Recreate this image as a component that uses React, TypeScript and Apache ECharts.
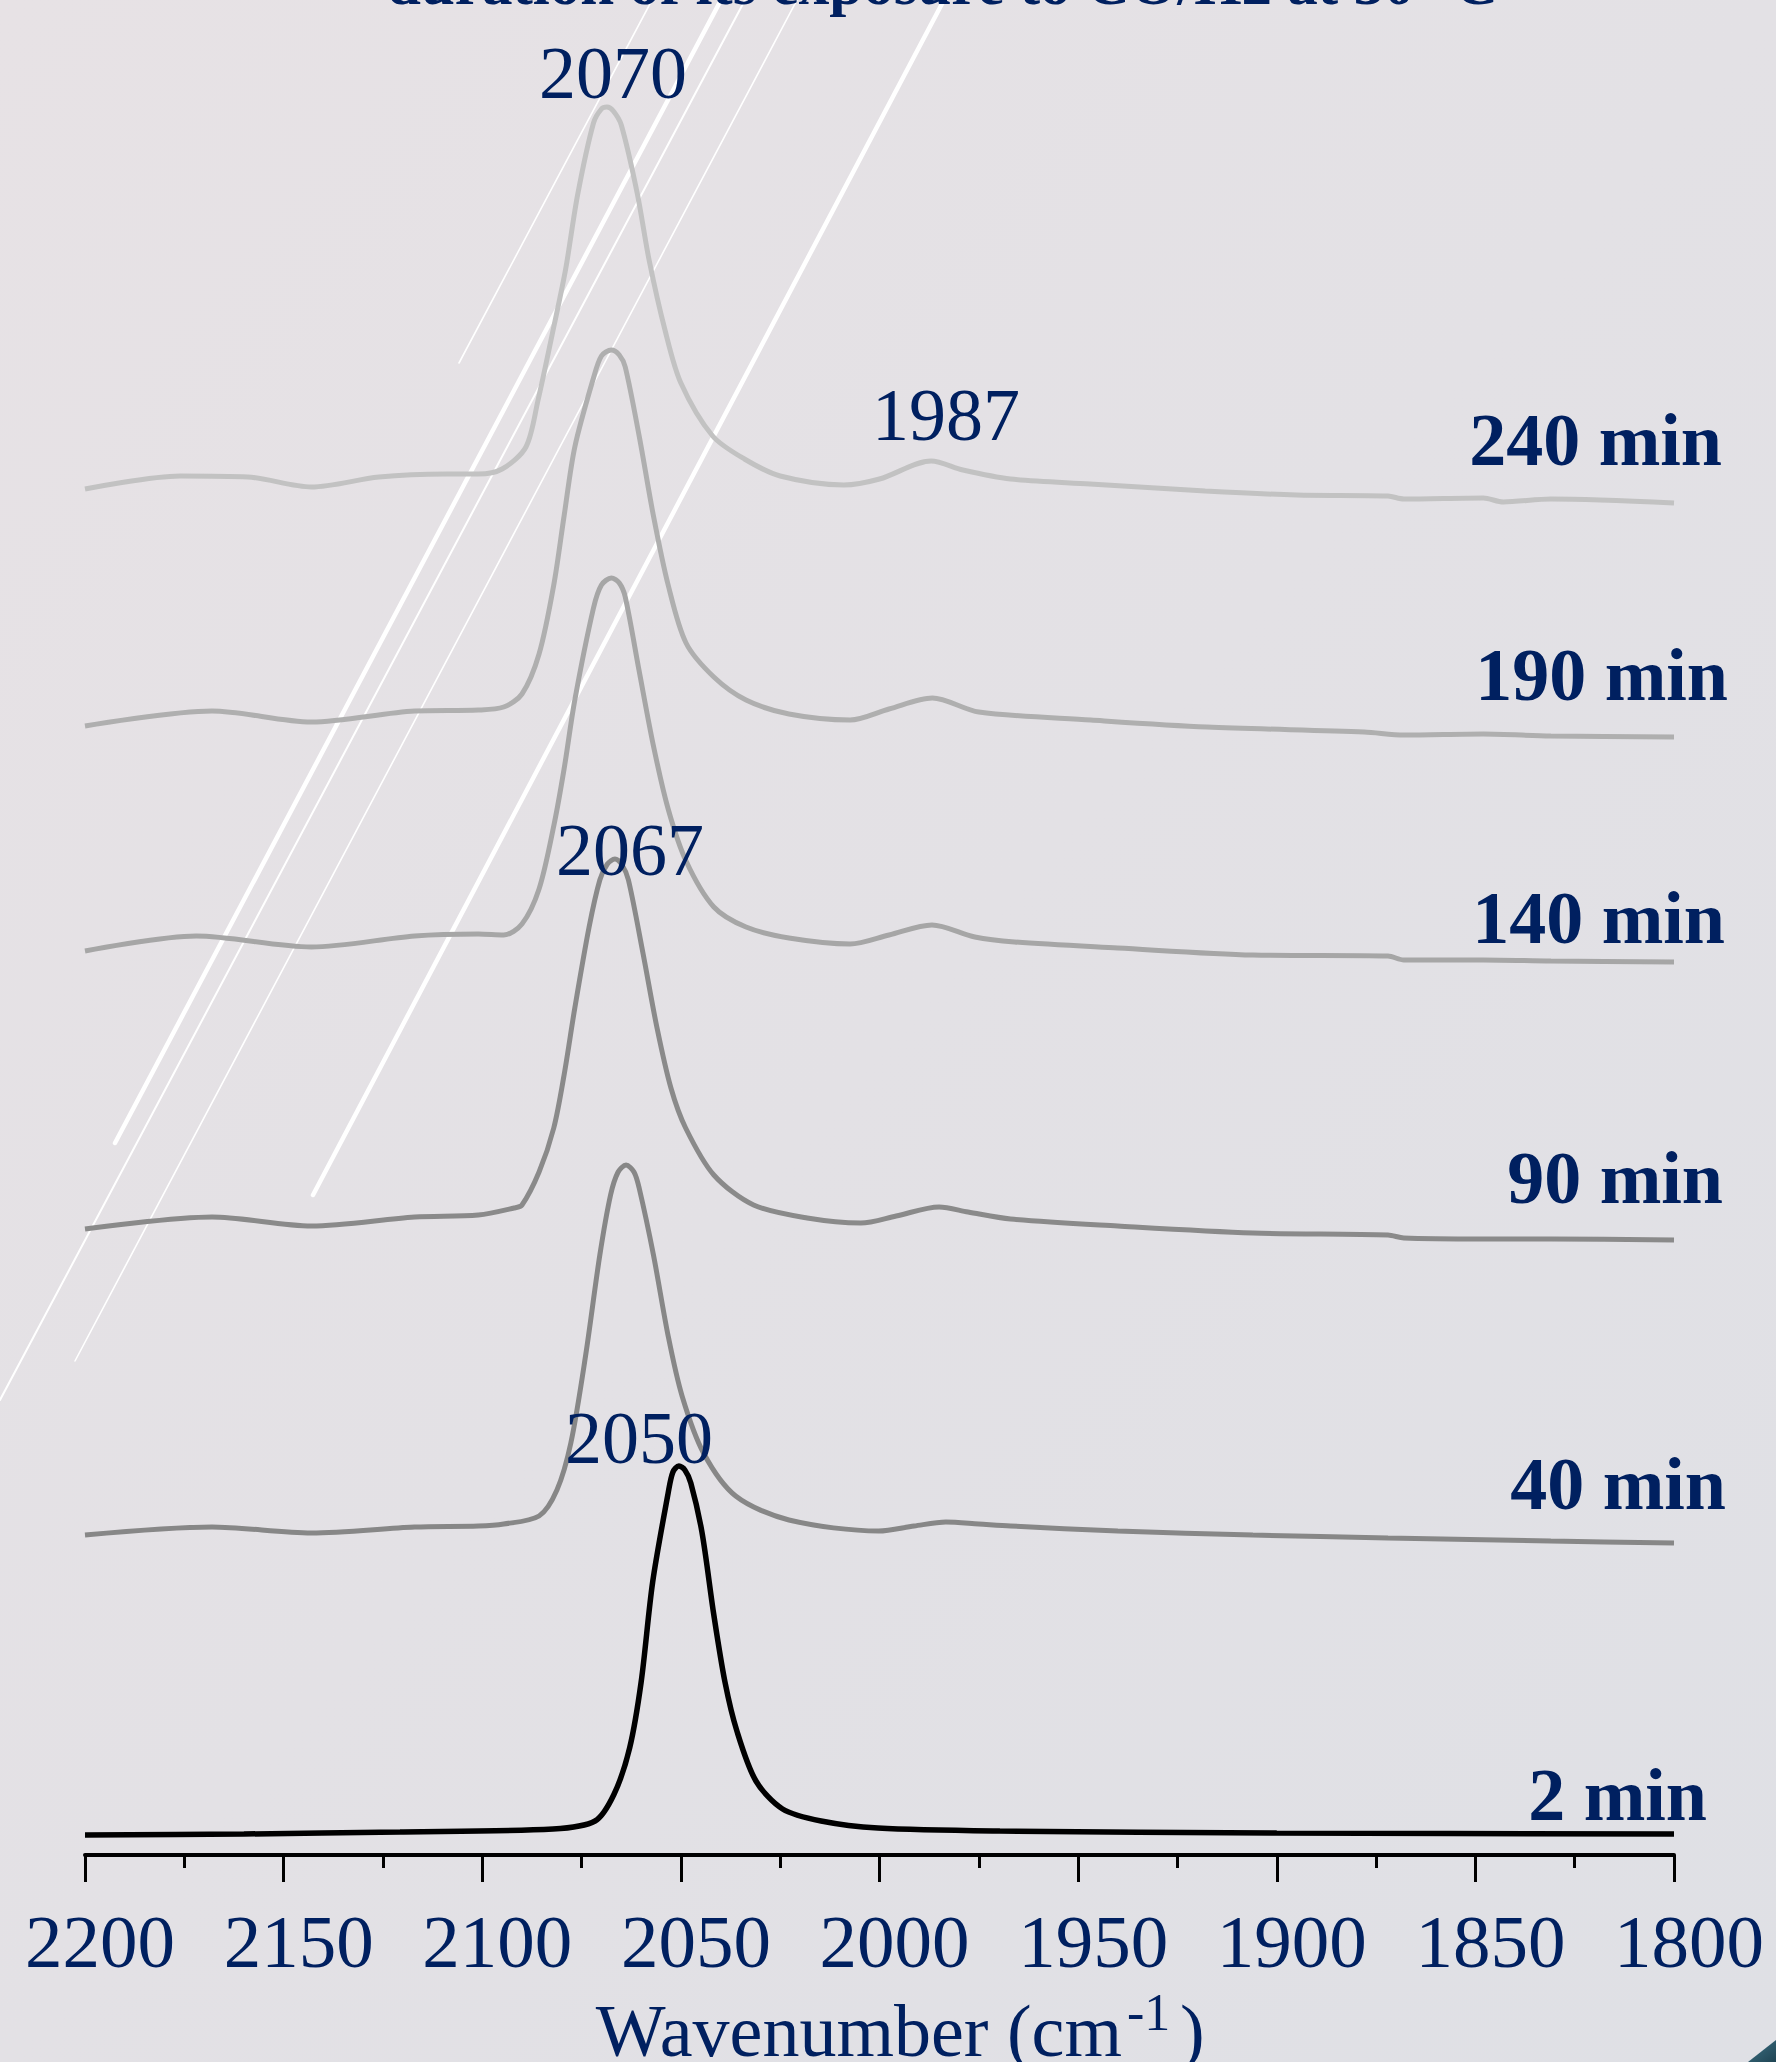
import React, { useEffect, useRef } from 'react';
import * as echarts from 'echarts';

// ---- data (wavenumber cm-1, absorbance a.u.) ----
const xMin = 1800;
const xMax = 2200;
const xStep = 50;

const times = ['2 min', '40 min', '90 min', '140 min', '190 min', '240 min'];
const offsets = [0.18, 3.1, 6.1, 8.9, 11.15, 13.5];
const colors = ['#000000', '#878787', '#8a8a8a', '#a6a6a6', '#afafaf', '#c2c2c2'];

const spec2: [number, number][] = [
  [2200, 0.02], [2160, 0.03], [2120.7, 0.05], [2082.2, 0.08], [2071.6, 0.16], [2066.8, 0.43],
  [2062.9, 0.89], [2060, 1.55], [2057.1, 2.55], [2053.2, 3.44], [2052, 3.65], [2050.5, 3.71],
  [2049, 3.67], [2047.5, 3.54], [2044.7, 3.05], [2041.7, 2.22], [2038.9, 1.55], [2035.9, 1.06],
  [2031.1, 0.56], [2024.4, 0.28], [2014.7, 0.16], [2000.4, 0.09], [1969.7, 0.06], [1900, 0.04],
  [1800, 0.03],
];

const spec40: [number, number][] = [
  [2200, 0.1], [2168, 0.18], [2143, 0.12], [2117, 0.18], [2101, 0.19], [2094.6, 0.21],
  [2085.7, 0.29], [2081.2, 0.55], [2077.7, 1.02], [2074, 1.89], [2070.4, 2.9], [2067.7, 3.5],
  [2065.8, 3.73], [2063.8, 3.8], [2061.8, 3.73], [2060.5, 3.57], [2056.9, 2.9], [2053.2, 2.09],
  [2049.7, 1.49], [2044.3, 0.92], [2036.2, 0.49], [2022.8, 0.25], [2000.2, 0.14], [1991.3, 0.19],
  [1983.3, 0.23], [1975, 0.21], [1967, 0.19], [1940, 0.14], [1906, 0.1], [1872, 0.07],
  [1831, 0.04], [1800, 0.02],
];

const spec90: [number, number][] = [
  [2200, 0.16], [2168, 0.28], [2143, 0.19], [2117, 0.28], [2101, 0.3], [2092, 0.37], [2090, 0.4],
  [2085.7, 0.73], [2082, 1.17], [2079.4, 1.7], [2076.7, 2.37], [2073.1, 3.18], [2070.4, 3.65],
  [2068.5, 3.81], [2066.6, 3.86], [2064.8, 3.8], [2063.2, 3.65], [2059.5, 2.91], [2056, 2.17],
  [2052.5, 1.57], [2048.8, 1.17], [2041.7, 0.7], [2031.7, 0.4], [2018.2, 0.27], [2004.7, 0.22],
  [1995.8, 0.29], [1985, 0.38], [1977.7, 0.33], [1967, 0.26], [1940, 0.19], [1906, 0.12],
  [1872, 0.1], [1868, 0.07], [1848, 0.06], [1831, 0.06], [1800, 0.05],
];

const spec140: [number, number][] = [
  [2200, 0.14], [2172, 0.29], [2143, 0.18], [2117, 0.29], [2101, 0.31], [2094.6, 0.3], [2090, 0.41],
  [2085.7, 0.76], [2082, 1.39], [2079.4, 1.96], [2076.7, 2.65], [2072, 3.57], [2070, 3.8],
  [2067.5, 3.87], [2065.5, 3.82], [2064, 3.68], [2060.5, 2.94], [2056.9, 2.19], [2053.2, 1.56],
  [2048.7, 1.04], [2041.7, 0.58], [2033.6, 0.38], [2022.8, 0.27], [2007.4, 0.21], [1997.6, 0.3],
  [1986.8, 0.4], [1976, 0.28], [1966, 0.23], [1940, 0.17], [1906, 0.1], [1872, 0.09], [1868, 0.05],
  [1848, 0.05], [1831, 0.04], [1800, 0.03],
];

const spec190: [number, number][] = [
  [2200, 0.14], [2168, 0.29], [2143, 0.18], [2117, 0.29], [2101, 0.3], [2094.6, 0.33], [2090, 0.46],
  [2085.7, 0.86], [2082, 1.55], [2079.4, 2.24], [2076.7, 2.93], [2072, 3.62], [2070, 3.84],
  [2067.5, 3.9], [2065.5, 3.85], [2064, 3.73], [2060.5, 3.04], [2056.9, 2.24], [2053.2, 1.55],
  [2048.7, 0.97], [2041.7, 0.63], [2033.6, 0.4], [2022.8, 0.26], [2007.4, 0.2], [1997.6, 0.31],
  [1986.7, 0.42], [1975, 0.28], [1946.8, 0.2], [1917.6, 0.13], [1878, 0.08], [1868, 0.05],
  [1848, 0.06], [1831, 0.04], [1800, 0.03],
];

const spec240: [number, number][] = [
  [2200, 0.16], [2176, 0.29], [2159, 0.28], [2143, 0.18], [2126, 0.28], [2109, 0.31], [2101, 0.31],
  [2095, 0.36], [2089, 0.58], [2086, 1.04], [2082, 1.78], [2079, 2.36], [2076, 3.1], [2072, 3.82],
  [2070, 3.96], [2068.6, 3.98], [2067, 3.94], [2065, 3.8], [2061, 3.12], [2058, 2.45],
  [2054, 1.75], [2050, 1.22], [2042, 0.69], [2034, 0.46], [2025, 0.29], [2009, 0.2], [2000, 0.26],
  [1987, 0.44], [1979, 0.35], [1967, 0.26], [1947, 0.21], [1918, 0.14], [1895, 0.1], [1872, 0.09],
  [1868, 0.06], [1848, 0.07], [1843, 0.03], [1831, 0.06], [1800, 0.02],
];

const spectra = [spec2, spec40, spec90, spec140, spec190, spec240];

const peakLabels = ['2070', '1987', '2067', '2050'];
const titleText = 'duration of its exposure to CO/H2 at 30 °C';

// ---- layout (pixels) ----
const W = 1776;
const H = 2062;
const SERIF = '"Liberation Serif", "Times New Roman", serif';
const NAVY = '#002060';

export default function App() {
  const ref = useRef<HTMLDivElement>(null);

  useEffect(() => {
    if (!ref.current) return;
    const chart = echarts.init(ref.current, undefined, { renderer: 'svg' });

    const timePos = [
      [1707, 1795], [1726, 1484], [1723, 1178], [1725, 918], [1728, 675], [1722, 440],
    ];
    const peakPos = [[613, 73], [946, 415], [630, 850], [639, 1438]];

    const texts: any[] = [];
    times.forEach((t, i) => {
      texts.push({
        type: 'text', z: 100, silent: true,
        style: {
          text: t, x: timePos[i][0], y: timePos[i][1], align: 'right', verticalAlign: 'middle',
          font: `bold 74px ${SERIF}`, fill: NAVY,
        },
      });
    });
    peakLabels.forEach((t, i) => {
      texts.push({
        type: 'text', z: 100, silent: true,
        style: {
          text: t, x: peakPos[i][0], y: peakPos[i][1], align: 'center', verticalAlign: 'middle',
          font: `74px ${SERIF}`, fill: NAVY,
        },
      });
    });
    // axis name with superscript
    texts.push(
      { type: 'text', z: 100, silent: true, style: { text: 'Wavenumber (cm', x: 1122, y: 2031, align: 'right', verticalAlign: 'middle', font: `74px ${SERIF}`, fill: NAVY } },
      { type: 'text', z: 100, silent: true, style: { text: '-1', x: 1127, y: 2012, align: 'left', verticalAlign: 'middle', font: `52px ${SERIF}`, fill: NAVY } },
      { type: 'text', z: 100, silent: true, style: { text: ')', x: 1180, y: 2031, align: 'left', verticalAlign: 'middle', font: `74px ${SERIF}`, fill: NAVY } },
      { type: 'text', z: 100, silent: true, style: { text: titleText, x: 387, y: -17, align: 'left', verticalAlign: 'middle', font: `bold 61px ${SERIF}`, fill: NAVY } },
    );

    const deco = [
      { x1: 115, y1: 1143, x2: 721, y2: 0, w: 4.5 },
      { x1: 0, y1: 1400, x2: 745, y2: 0, w: 2 },
      { x1: 75, y1: 1361, x2: 797, y2: 0, w: 1.6 },
      { x1: 313, y1: 1195, x2: 944, y2: 0, w: 4.5 },
      { x1: 459, y1: 363, x2: 652, y2: 0, w: 1.6 },
    ].map((d) => ({
      type: 'line', z: 0, silent: true,
      shape: { x1: d.x1, y1: d.y1, x2: d.x2, y2: d.y2 },
      style: { stroke: '#ffffff', lineWidth: d.w, lineCap: 'round' },
    }));

    const corner = {
      type: 'polygon', z: 0, silent: true,
      shape: { points: [[1748, 2062], [1776, 2040], [1776, 2062]] },
      style: {
        fill: new echarts.graphic.LinearGradient(0, 0, 1, 1, [
          { offset: 0, color: '#3d7184' }, { offset: 1, color: '#1f4453' },
        ]),
      },
    };

    chart.setOption({
      animation: false,
      backgroundColor: new echarts.graphic.LinearGradient(0, 0, 1, 1, [
        { offset: 0, color: '#e7e2e5' },
        { offset: 1, color: '#dfe0e5' },
      ]),
      grid: { left: 85, right: W - 1674, top: 0, bottom: H - 1855, containLabel: false },
      xAxis: {
        type: 'value', min: xMin, max: xMax, interval: xStep, inverse: true,
        axisLine: { show: true, onZero: false, lineStyle: { color: '#000', width: 4 } },
        axisTick: { show: true, length: 27, lineStyle: { color: '#000', width: 3 } },
        minorTick: { show: true, splitNumber: 2, length: 13, lineStyle: { color: '#000', width: 3 } },
        splitLine: { show: false },
        minorSplitLine: { show: false },
        axisLabel: {
          fontFamily: SERIF, fontSize: 75, color: NAVY, margin: 49,
          padding: [0, 0, 0, 30],
          formatter: (v: number) => String(v),
        },
      },
      yAxis: { type: 'value', min: 0, max: 18.55, show: false, splitLine: { show: false } },
      graphic: { elements: [...deco, corner, ...texts] },
      series: spectra.map((s, i) => ({
        type: 'line',
        name: times[i],
        data: s.map(([w, a]) => [w, +(a + offsets[i]).toFixed(3)]),
        showSymbol: false,
        smooth: 0.3,
        silent: true,
        z: 10 - i,
        lineStyle: { color: colors[i], width: i === 0 ? 5.5 : 5 },
        itemStyle: { color: colors[i] },
      })),
    });

    return () => chart.dispose();
  }, []);

  return (
    <div
      ref={ref}
      style={{ position: 'absolute', left: 0, top: 0, width: W, height: H }}
    />
  );
}
